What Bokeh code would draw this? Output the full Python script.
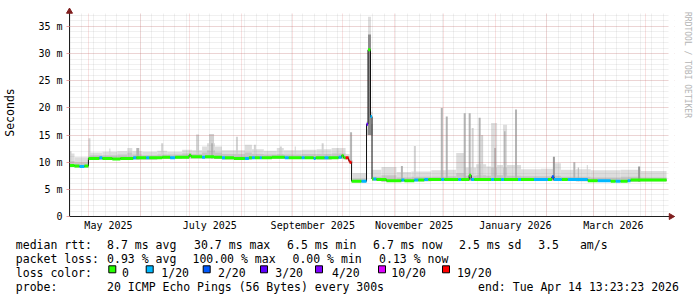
import numpy as np
import pandas as pd
from bokeh.plotting import figure
from bokeh.models import (Range1d, FixedTicker, Grid, DatetimeTickFormatter,
                          CustomJSTickFormatter)
from bokeh.layouts import column, row
from bokeh.core.properties import value
from bokeh.embed import file_html
from bokeh.resources import INLINE

# ---------------- data ----------------
START = pd.Timestamp("2025-04-19 13:23:23")
END = pd.Timestamp("2026-04-14 13:23:23")
DATA_END_DAY = 359.4          # last consolidated sample (days after START)

# median rtt, step runs: start day, value (ms), loss class index
med_day = [0.0, 3.0, 6.0, 9.0,
           11.4, 18.0, 19.8, 25.8, 30.6, 38.4, 40.2, 46.2, 48.0, 55.8, 60.6, 63.6,
           72.0, 73.2, 79.8, 81.6, 87.0, 91.8, 93.6, 99.0, 105.6, 108.0, 109.8, 111.6,
           114.6, 115.8, 121.8, 129.6, 132.0, 139.8, 141.6, 147.0, 148.2, 153.6, 156.0,
           162.0, 163.8, 165.0, 166.2, 168.0, 168.6,
           169.8, 175.8, 178.8, 179.7, 181.2,
           182.1, 183.0, 184.8, 190.8, 199.8, 201.6, 207.6, 210.0, 213.6, 216.0, 223.8,
           225.6, 234.0, 235.8, 240.6, 241.8, 243.6, 253.8, 255.6, 259.8, 261.6, 270.0,
           271.8, 279.6, 288.0, 290.4, 291.6, 296.4, 300.0, 312.0, 318.0, 325.8, 328.8,
           331.8, 336.0, 337.8]
med_ms = [9.4, 9.3, 9.2, 9.3,
          10.7, 10.8, 10.7, 10.6, 10.7, 10.8, 10.8, 10.8, 10.8, 10.9, 10.8, 10.9,
          11.3, 11.0, 10.9, 11.0, 10.9, 10.8, 10.8, 10.7, 10.7, 10.8, 10.8, 10.8,
          10.8, 10.8, 10.9, 10.8, 10.8, 10.8, 10.8, 10.7, 10.8, 10.8, 10.8,
          10.9, 11.2, 10.8, 10.8, 10.3, 10.0,
          6.5, 6.5, 17.0, 30.7, 18.4,
          6.9, 6.9, 6.8, 6.6, 6.7, 6.6, 6.7, 6.7, 6.8, 6.8, 6.8,
          6.8, 6.8, 6.8, 7.6, 6.8, 6.8, 6.8, 6.8, 6.8, 6.8, 6.8,
          6.8, 6.8, 6.8, 7.3, 6.8, 6.8, 6.8, 6.6, 6.6, 6.5, 6.5,
          6.5, 6.6, 6.7]
med_loss = [0, 0, 1, 0,
            0, 1, 0, 0, 0, 1, 0, 1, 0, 0, 1, 0,
            0, 0, 1, 0, 0, 1, 0, 0, 1, 0, 1, 0,
            1, 0, 0, 1, 0, 1, 0, 1, 0, 1, 0,
            1, 0, 0, 6, 6, 6,
            0, 1, 3, 0, 1,
            0, 1, 0, 0, 1, 0, 1, 0, 1, 0, 1,
            0, 1, 0, 0, 1, 0, 1, 0, 1, 0, 1,
            0, 1, 0, 2, 1, 0, 1, 0, 1, 0, 1,
            0, 1, 0]

# smoke envelope bins: start day, lowest ping, inner band top, highest ping (ms)
smoke_day = [0.0, 3.0, 11.4, 19.8, 28.8, 34.8, 37.8, 43.8, 52.8, 58.8,
             67.8, 73.8, 79.8, 82.8, 87.6, 91.8, 105.6, 109.8, 117.0, 124.8,
             129.0, 139.8, 148.8, 157.8, 166.2, 168.6, 170.4, 178.8, 179.7, 181.5,
             182.4, 187.8, 196.8, 205.8, 217.8, 226.8, 232.8, 237.6, 244.8, 250.8,
             253.8, 257.4, 261.0, 263.4, 271.8, 283.8, 291.6, 295.8, 304.8, 313.8,
             331.8, 343.8]
smoke_lo = [9.1, 9.0, 10.4, 10.4, 10.4, 10.5, 10.5, 10.5, 10.6, 10.6,
            10.7, 10.7, 10.7, 10.7, 10.6, 10.5, 10.5, 10.6, 10.6, 10.6,
            10.6, 10.6, 10.5, 10.6, 10.5, 9.8, 6.3, 15.0, 15.0, 15.0,
            6.6, 6.4, 6.4, 6.5, 6.6, 6.6, 6.6, 6.6, 6.6, 6.6,
            6.6, 6.6, 6.6, 6.6, 6.6, 6.6, 6.6, 6.6, 6.5, 6.4,
            6.4, 6.5]
smoke_mid = [10.2, 9.9, 11.3, 11.3, 11.4, 11.8, 11.4, 11.3, 11.4, 11.4,
             11.6, 11.5, 11.8, 12.2, 11.8, 11.5, 11.8, 11.5, 11.4, 11.5,
             11.4, 11.5, 11.5, 11.6, 11.1, 10.2, 7.0, 16.0, 30.0, 17.0,
             7.3, 7.6, 7.2, 7.3, 7.3, 7.4, 8.0, 7.5, 7.6, 7.5,
             9.0, 7.6, 9.0, 7.5, 7.4, 7.4, 7.5, 7.3, 7.3, 7.2,
             7.3, 7.2]
smoke_hi = [11.6, 10.9, 11.8, 11.9, 12.0, 12.6, 12.0, 11.9, 12.1, 11.9,
            12.3, 12.2, 12.9, 13.5, 12.9, 12.2, 13.2, 12.4, 12.1, 12.6,
            12.2, 12.3, 12.4, 12.6, 11.5, 10.4, 8.0, 17.5, 36.8, 19.3,
            8.6, 9.1, 8.2, 8.3, 8.5, 8.6, 11.7, 9.0, 9.6, 9.2,
            17.2, 9.5, 16.9, 9.5, 8.7, 8.8, 9.8, 8.6, 8.7, 8.5,
            8.6, 8.4]

# isolated smoke spikes: start day, duration (days), top (ms), shade class
spike_day = [0.0, 11.4, 24.0, 40.2, 55.2, 76.2, 84.0, 85.2, 100.2, 111.0,
             126.6, 135.6, 151.8, 160.8, 168.9, 179.7, 199.5, 207.3, 223.5, 226.5,
             237.3, 240.3, 242.1, 246.3, 247.8, 255.6, 261.6, 268.2, 291.0, 303.3,
             306.0, 311.4, 342.3]
spike_len = [1.2, 1.2, 0.6, 1.8, 1.2, 1.8, 3.0, 1.2, 1.2, 1.2,
             1.2, 0.6, 1.2, 1.2, 1.2, 1.8, 1.2, 1.2, 1.2, 1.2,
             1.2, 1.2, 1.2, 1.2, 1.2, 1.2, 0.9, 1.2, 1.2, 1.2,
             0.6, 0.6, 1.2]
spike_top = [12.0, 14.4, 12.5, 12.6, 13.5, 15.1, 15.2, 13.5, 14.7, 13.2,
             12.9, 12.9, 13.5, 12.6, 15.5, 33.5, 9.3, 13.0, 20.0, 18.4,
             19.0, 19.0, 16.3, 18.2, 15.0, 12.6, 15.7, 19.7, 11.0, 10.0,
             9.0, 9.5, 9.2]
spike_shade = [0, 0, 0, 1, 0, 0, 0, 1, 0, 0,
               0, 0, 0, 0, 1, 3, 1, 0, 1, 1,
               1, 1, 0, 1, 0, 1, 1, 1, 2, 1,
               1, 0, 2]

loss_colors = ["#26ff00", "#00b8ff", "#0059ff", "#5e00ff", "#7e00ff", "#dd00ff", "#ff0000"]
loss_labels = ["0", "1/20", "2/20", "3/20", "4/20", "10/20", "19/20"]

y_ticks = [0, 5, 10, 15, 20, 25, 30, 35]
x_label_dates = ["2025-05-13", "2025-07-13", "2025-09-13", "2025-11-13",
                 "2026-01-13", "2026-03-13"]

rtt_stats = ["8.7 ms avg", "30.7 ms max", "6.5 ms min", "6.7 ms now", "2.5 ms sd", "3.5", "am/s"]
loss_stats = ["0.93 % avg", "100.00 % max", "0.00 % min", "0.13 % now"]
probe_text = "20 ICMP Echo Pings (56 Bytes) every 300s"
end_text = "end: Tue Apr 14 13:23:23 2026"

# ---------------- styling / geometry ----------------
FONT = "DejaVu Sans Mono"
PX_PER_DAY = 600 / 360.0
PX_PER_MS = 208 / 38.3
Y_END = 38.3
X_PAD_DAYS = 7 / PX_PER_DAY
LIGHT, MID = "#dddddd", "#c6c6c6"
SHADES = ["#d2d2d2", "#b4b4b4", "#9a9a9a", "#8c8c8c"]
ARROW = "#801f1f"
AXIS = "#1f1f1f"


def t(days):
    return (START + pd.to_timedelta(np.asarray(days, dtype=float), unit="D")).to_numpy()


def ms(ts):
    return float(pd.Timestamp(ts).value // 10**6)


p = figure(width=675, height=235, x_axis_type="datetime",
           x_range=Range1d(START, END + pd.Timedelta(days=X_PAD_DAYS)),
           y_range=Range1d(0, Y_END),
           output_backend="svg", toolbar_location=None,
           min_border_left=67, min_border_right=1, min_border_top=8, min_border_bottom=19)
p.outline_line_color = None
p.background_fill_color = "white"
p.border_fill_color = "white"
p.grid.visible = False

# smoke
s_right = smoke_day[1:] + [DATA_END_DAY]
p.quad(left=t(smoke_day), right=t(s_right), bottom=smoke_lo, top=smoke_hi,
       fill_color=LIGHT, line_color=None, level="image")
p.quad(left=t(smoke_day), right=t(s_right), bottom=smoke_lo, top=smoke_mid,
       fill_color=MID, line_color=None, level="image")
idx = np.searchsorted(np.array(smoke_day), np.array(spike_day), side="right") - 1
sp_bottom = [smoke_mid[i] if sh == 0 else smoke_lo[i] for i, sh in zip(idx, spike_shade)]
p.quad(left=t(spike_day), right=t(np.array(spike_day) + np.array(spike_len)),
       bottom=sp_bottom, top=spike_top,
       fill_color=[SHADES[s] for s in spike_shade], line_color=None, level="image")

# grids (drawn over the smoke)
month_starts = pd.date_range("2025-05-01", "2026-04-01", freq="MS")
week_starts = pd.date_range("2025-04-20", "2026-04-12", freq="W-SUN")
grid_style = dict(grid_line_color="#de4f4f", grid_line_alpha=0.35, grid_line_dash="1 1",
                  minor_grid_line_color="#8f8f8f", minor_grid_line_alpha=0.28,
                  minor_grid_line_dash="1 1", level="underlay")
xg = Grid(dimension=0, ticker=FixedTicker(ticks=[ms(d) for d in month_starts],
                                          minor_ticks=[ms(d) for d in week_starts]),
          **grid_style)
yg = Grid(dimension=1, ticker=FixedTicker(ticks=y_ticks, minor_ticks=list(range(0, 38))),
          **grid_style)
p.add_layout(xg, "center")
p.add_layout(yg, "center")

# mask grid overshoot beyond the rrd canvas (arrow zone)
p.quad(left=[t([0])[0], t([360 + 0.6])[0]], right=[t([364.3])[0]] * 2,
       bottom=[37.4, 0], top=[Y_END, Y_END], fill_color="white", line_color=None)

# median: thin dark step line + thick loss-coloured runs
m_right = med_day[1:] + [DATA_END_DAY]
xs, ys = [], []
for d0, d1, v in zip(med_day, m_right, med_ms):
    xs += [d0, d1]
    ys += [v, v]
p.line(t(xs), ys, line_color="#111111", line_width=1)
p.segment(x0=t(med_day), y0=med_ms, x1=t(m_right), y1=med_ms,
          line_color=[loss_colors[k] for k in med_loss], line_width=3, line_cap="butt")

# arrows at axis ends
p.scatter(x=[END + pd.Timedelta(days=3.5 / PX_PER_DAY)], y=[0], marker="triangle",
          size=6, angle=-np.pi / 2, fill_color=ARROW, line_color=ARROW, level="overlay")
p.scatter(x=[START], y=[Y_END - 3 / PX_PER_MS], marker="triangle",
          size=6, fill_color=ARROW, line_color=ARROW, level="overlay")

# axes
p.yaxis.ticker = FixedTicker(ticks=y_ticks)
p.yaxis.formatter = CustomJSTickFormatter(code="return tick == 0 ? '0' : tick + ' m';")
p.xaxis.ticker = FixedTicker(ticks=[ms(d) for d in x_label_dates])
fmt = "%B %Y"
p.xaxis.formatter = DatetimeTickFormatter(milliseconds=fmt, seconds=fmt, minsec=fmt,
                                          minutes=fmt, hourmin=fmt, hours=fmt, days=fmt,
                                          months=fmt, years=fmt)
for ax in (p.xaxis, p.yaxis):
    ax.axis_line_color = AXIS
    ax.major_label_text_font = FONT
    ax.major_label_text_font_size = "10px"
    ax.major_label_text_color = "#000000"
    ax.minor_tick_line_color = None
p.xaxis.major_tick_line_color = None
p.xaxis.major_tick_out = 0
p.xaxis.major_label_standoff = 3
p.yaxis.major_tick_line_color = "#e8a0a0"
p.yaxis.major_tick_out = 3
p.yaxis.major_tick_in = 0
p.yaxis.major_label_standoff = 4
p.yaxis.axis_label = "Seconds"
p.yaxis.axis_label_text_font = FONT
p.yaxis.axis_label_text_font_size = "11.5px"
p.yaxis.axis_label_text_font_style = "normal"
p.yaxis.axis_label_text_color = "#000000"
p.yaxis.axis_label_standoff = 18

# watermark column
wm = figure(width=22, height=235, x_range=Range1d(675, 697), y_range=Range1d(235, 0),
            output_backend="svg", toolbar_location=None, x_axis_type=None, y_axis_type=None,
            min_border=0)
wm.outline_line_color = None
wm.grid.visible = False
wm.text(x=[687], y=[4], text=["RRDTOOL / TOBI OETIKER"], angle=-np.pi / 2,
        text_font=value(FONT), text_font_size="8px", text_color="#b4b4b4",
        text_align="left", text_baseline="middle")

# legend block
lg = figure(width=697, height=62, x_range=Range1d(0, 697), y_range=Range1d(297, 235),
            output_backend="svg", toolbar_location=None, x_axis_type=None, y_axis_type=None,
            min_border=0)
lg.outline_line_color = None
lg.grid.visible = False
txt = dict(text_font=value(FONT), text_font_size="11.5px", text_color="#000000",
           text_align="left", text_baseline="alphabetic")
rtt_x = [106.6, 193.6, 286.6, 372.6, 458.6, 537.7, 579.4]
loss_x = [106.6, 192.0, 292.0, 378.6]
sq_x = [108.3, 145.7, 202.7, 260.0, 315.0, 378.0, 442.0]
lab_x = [121.5, 160.8, 217.5, 274.8, 331.5, 390.8, 456.5]
lg.text(x=[15.3, 15.3, 15.3, 15.3], y=[244, 258, 272, 286],
        text=["median rtt:", "packet loss:", "loss color:", "probe:"], **txt)
lg.text(x=rtt_x, y=[244] * len(rtt_stats), text=rtt_stats, **txt)
lg.text(x=loss_x, y=[258] * len(loss_stats), text=loss_stats, **txt)
lg.text(x=[106.6, 477.6], y=[286, 286], text=[probe_text, end_text], **txt)
lg.quad(left=sq_x, right=[v + 7 for v in sq_x], top=[265.3] * 7, bottom=[272.3] * 7,
        fill_color=loss_colors, line_color="#000000", line_width=1)
lg.text(x=lab_x, y=[272] * 7, text=loss_labels, **txt)

layout = column(row(p, wm), lg)
open("out.html", "w").write(file_html(layout, INLINE))
